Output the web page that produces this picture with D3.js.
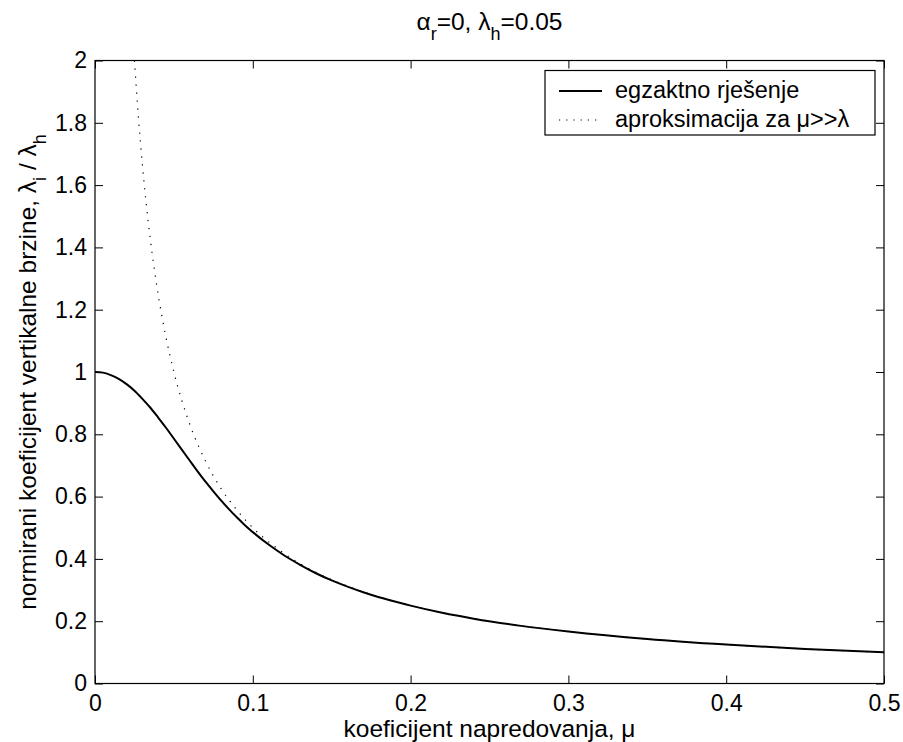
<!DOCTYPE html>
<html>
<head>
<meta charset="utf-8">
<script src="https://cdn.jsdelivr.net/npm/d3@7"></script>
<style>
  body { margin: 0; background: #fff; }
  svg { display: block; font-family: 'Liberation Sans', Arial, sans-serif; }
</style>
</head>
<body>
<div id="chart"></div>
<script>
// advance ratio mu and normalized inflow lambda_i / lambda_h
var muExact = [0, 0.005, 0.01, 0.015, 0.02, 0.025, 0.03, 0.035, 0.04, 0.045, 0.05,
  0.055, 0.06, 0.065, 0.07, 0.075, 0.08, 0.085, 0.09, 0.095, 0.1, 0.11, 0.12, 0.13,
  0.14, 0.15, 0.16, 0.17, 0.18, 0.19, 0.2, 0.22, 0.24, 0.27, 0.3, 0.35, 0.4, 0.45, 0.5];
var inflowExact = [1, 0.998, 0.990, 0.978, 0.961, 0.940, 0.914, 0.886, 0.854, 0.821, 0.786,
  0.751, 0.716, 0.681, 0.648, 0.617, 0.587, 0.559, 0.533, 0.508, 0.486, 0.446, 0.411, 0.381,
  0.354, 0.331, 0.311, 0.293, 0.277, 0.263, 0.250, 0.227, 0.208, 0.185, 0.167, 0.143, 0.125, 0.111, 0.100];
var muApprox = [0.025, 0.0275, 0.03, 0.0325, 0.035, 0.04, 0.045, 0.05, 0.06, 0.07, 0.08,
  0.09, 0.1, 0.12, 0.14, 0.16, 0.18, 0.2, 0.25, 0.3, 0.35, 0.4, 0.45, 0.5];
var inflowApprox = [2, 1.818, 1.667, 1.538, 1.429, 1.25, 1.111, 1, 0.833, 0.714, 0.625,
  0.556, 0.5, 0.417, 0.357, 0.3125, 0.278, 0.25, 0.2, 0.167, 0.143, 0.125, 0.111, 0.1];
var xTicks = [0, 0.1, 0.2, 0.3, 0.4, 0.5];
var yTicks = [0, 0.2, 0.4, 0.6, 0.8, 1, 1.2, 1.4, 1.6, 1.8, 2];
var legendLabels = ['egzaktno rješenje', 'aproksimacija za μ>>λ'];

var WIDTH = 903;
var HEIGHT = 742;
var PLOT = { left: 95, right: 884, top: 60.5, bottom: 683.5 };
var TICK_FONT = 23;
var LABEL_FONT = 24.5;
var LEGEND_FONT = 23.5;
var SUB_SIZE = 18;
var TICK_LEN = 8;

var svg = d3.select('#chart').append('svg')
  .attr('width', WIDTH)
  .attr('height', HEIGHT);

var xScale = d3.scaleLinear().domain([0, 0.5]).range([PLOT.left, PLOT.right]);
var yScale = d3.scaleLinear().domain([0, 2]).range([PLOT.bottom, PLOT.top]);
var fmt = function (d) { return String(d); };

/** axes, ticks pointing inward like matlab */
function styleAxis(g) {
  g.style('font-size', TICK_FONT + 'px').style('font-family', 'inherit');
  g.select('.domain').remove();
  g.selectAll('line').attr('stroke', '#000').attr('stroke-width', 1);
  g.selectAll('text').attr('fill', '#000');
}
svg.append('g')
  .attr('transform', 'translate(0,' + PLOT.bottom + ')')
  .call(d3.axisBottom(xScale).tickValues(xTicks).tickFormat(fmt).tickSize(-TICK_LEN).tickPadding(11))
  .call(styleAxis);
svg.append('g')
  .attr('transform', 'translate(0,' + PLOT.top + ')')
  .call(d3.axisTop(xScale).tickValues(xTicks).tickFormat('').tickSize(-TICK_LEN))
  .call(styleAxis);
svg.append('g')
  .attr('transform', 'translate(' + PLOT.left + ',0)')
  .call(d3.axisLeft(yScale).tickValues(yTicks).tickFormat(fmt).tickSize(-TICK_LEN).tickPadding(8))
  .call(styleAxis);
svg.append('g')
  .attr('transform', 'translate(' + PLOT.right + ',0)')
  .call(d3.axisRight(yScale).tickValues(yTicks).tickFormat('').tickSize(-TICK_LEN))
  .call(styleAxis);

svg.append('rect')
  .attr('x', PLOT.left).attr('y', PLOT.top)
  .attr('width', PLOT.right - PLOT.left).attr('height', PLOT.bottom - PLOT.top)
  .attr('fill', 'none').attr('stroke', '#000').attr('stroke-width', 1.2);

svg.append('clipPath').attr('id', 'plot-clip')
  .append('rect')
  .attr('x', PLOT.left).attr('y', PLOT.top)
  .attr('width', PLOT.right - PLOT.left).attr('height', PLOT.bottom - PLOT.top);

/** curves */
var line = d3.line()
  .x(function (d) { return xScale(d[0]); })
  .y(function (d) { return yScale(d[1]); })
  .curve(d3.curveMonotoneX);
var exactData = muExact.map(function (m, i) { return [m, inflowExact[i]]; });
var approxData = muApprox.map(function (m, i) { return [m, inflowApprox[i]]; });

var plot = svg.append('g').attr('clip-path', 'url(#plot-clip)');
plot.append('path')
  .attr('d', line(exactData))
  .attr('fill', 'none').attr('stroke', '#000').attr('stroke-width', 2);
plot.append('path')
  .attr('d', line(approxData))
  .attr('fill', 'none').attr('stroke', '#000').attr('stroke-width', 1.2)
  .attr('stroke-dasharray', '1.2,6.8');

/** legend */
var legend = svg.append('g');
legend.append('rect')
  .attr('x', 545).attr('y', 70.5).attr('width', 330).attr('height', 64.5)
  .attr('fill', '#fff').attr('stroke', '#000').attr('stroke-width', 1.2);
legendLabels.forEach(function (label, i) {
  var y = 91 + i * 29;
  legend.append('line')
    .attr('x1', 559).attr('x2', 602).attr('y1', y).attr('y2', y)
    .attr('stroke', '#000')
    .attr('stroke-width', i == 0 ? 2 : 1.2)
    .attr('stroke-dasharray', i == 0 ? null : '1.2,6');
  legend.append('text')
    .attr('x', 615).attr('y', y + 7)
    .style('font-size', LEGEND_FONT + 'px')
    .text(label);
});

/** title and axis labels */
var title = svg.append('text')
  .attr('x', (PLOT.left + PLOT.right) / 2).attr('y', 30)
  .attr('text-anchor', 'middle')
  .style('font-size', LABEL_FONT + 'px');
title.append('tspan').text('α');
title.append('tspan').attr('dy', 10).style('font-size', SUB_SIZE + 'px').text('r');
title.append('tspan').attr('dy', -10).text('=0, λ');
title.append('tspan').attr('dy', 10).style('font-size', SUB_SIZE + 'px').text('h');
title.append('tspan').attr('dy', -10).text('=0.05');

svg.append('text')
  .attr('x', (PLOT.left + PLOT.right) / 2).attr('y', 737)
  .attr('text-anchor', 'middle')
  .style('font-size', LABEL_FONT + 'px')
  .text('koeficijent napredovanja, μ');

var yLabel = svg.append('text')
  .attr('transform', 'translate(36,' + ((PLOT.top + PLOT.bottom) / 2) + ') rotate(-90)')
  .attr('text-anchor', 'middle')
  .style('font-size', LABEL_FONT + 'px');
yLabel.append('tspan').text('normirani koeficijent vertikalne brzine, λ');
yLabel.append('tspan').attr('dy', 10).style('font-size', SUB_SIZE + 'px').text('i');
yLabel.append('tspan').attr('dy', -10).text(' / λ');
yLabel.append('tspan').attr('dy', 10).style('font-size', SUB_SIZE + 'px').text('h');
</script>
</body>
</html>
